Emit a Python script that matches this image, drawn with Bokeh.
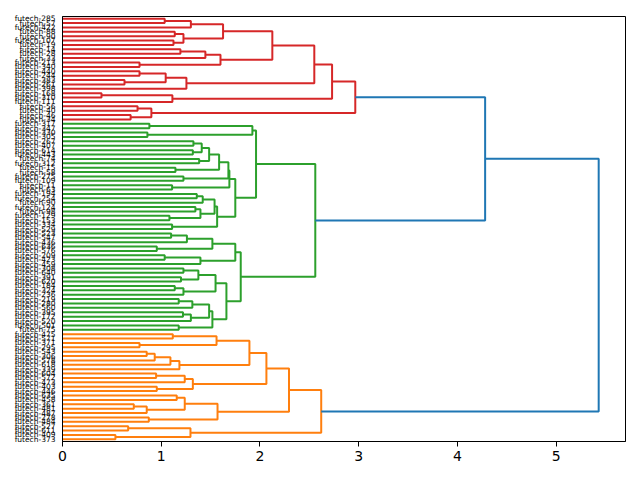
from bokeh.plotting import figure
from bokeh.models import Range1d, FixedTicker
from bokeh.embed import file_html
from bokeh.resources import INLINE

# leaf labels, top to bottom
leaf_labels = [
    "futech-285", "futech-57", "futech-422", "futech-88", "futech-90", "futech-107",
    "futech-19", "futech-14", "futech-28", "futech-33", "futech-213", "futech-340",
    "futech-440", "futech-244", "futech-383", "futech-261", "futech-398", "futech-168",
    "futech-310", "futech-111", "futech-56", "futech-40", "futech-46", "futech-34",
    "futech-317", "futech-347", "futech-330", "futech-305", "futech-267", "futech-407",
    "futech-614", "futech-443", "futech-74", "futech-312", "futech-15", "futech-58",
    "futech-275", "futech-109", "futech-11", "futech-63", "futech-194", "futech-254",
    "futech-90", "futech-124", "futech-98", "futech-129", "futech-153", "futech-334",
    "futech-529", "futech-523", "futech-547", "futech-436", "futech-636", "futech-576",
    "futech-209", "futech-423", "futech-459", "futech-308", "futech-640", "futech-391",
    "futech-620", "futech-184", "futech-324", "futech-236", "futech-219", "futech-280",
    "futech-560", "futech-395", "futech-172", "futech-520", "futech-501", "futech-75",
    "futech-475", "futech-571", "futech-371", "futech-295", "futech-543", "futech-306",
    "futech-578", "futech-618", "futech-339", "futech-604", "futech-572", "futech-473",
    "futech-403", "futech-446", "futech-635", "futech-458", "futech-361", "futech-481",
    "futech-487", "futech-278", "futech-484", "futech-527", "futech-611", "futech-409",
    "futech-373",
]

# linkage: ids < N are leaves, id N+k is the k-th merge
link_a = [0, 97, 3, 5, 99, 98, 7, 103, 10, 104, 102, 12, 14, 108, 110, 107, 17, 113, 112, 20, 22, 116, 115,
          24, 26, 120, 28, 30, 123, 32, 125, 34, 127, 36, 129, 38, 131, 40, 134, 43, 45, 136, 135, 47, 139, 133, 122,
          49, 144, 52, 145, 54, 148, 147, 57, 59, 151, 61, 154, 153, 64, 157, 67, 159, 158, 70, 161, 156, 150, 143,
          72, 74, 167, 76, 170, 171, 172, 169, 81, 175, 84, 176, 174, 86, 88, 181, 180, 91, 183, 179, 93, 95, 187, 186,
          119, 191]
link_b = [1, 2, 4, 6, 100, 101, 8, 9, 11, 105, 106, 13, 15, 109, 16, 111, 18, 19, 114, 21, 23, 117, 118,
          25, 27, 121, 29, 31, 124, 33, 126, 35, 128, 37, 130, 39, 132, 41, 42, 44, 46, 137, 138, 48, 140, 141, 142,
          50, 51, 53, 146, 55, 56, 149, 58, 60, 152, 62, 63, 155, 65, 66, 68, 69, 160, 71, 162, 163, 164, 165,
          73, 75, 168, 77, 78, 79, 80, 173, 82, 83, 85, 177, 178, 87, 89, 90, 182, 92, 184, 185, 94, 96, 188, 189,
          166, 190]
link_h = [1.035, 1.30, 1.137, 1.124, 1.225, 1.626, 1.194, 1.447, 0.78, 1.60, 2.125, 0.78, 0.628, 1.045, 1.255,
          2.55, 0.395, 1.113, 2.73, 0.76, 0.69, 0.90, 2.965,
          0.88, 0.86, 1.923, 1.326, 1.32, 1.41, 1.384, 1.485, 1.144, 1.586, 1.225, 1.68, 1.11, 1.69, 1.36, 1.42,
          1.346, 1.083, 1.397, 1.54, 1.11, 1.566, 1.75, 1.96,
          1.10, 1.26, 0.955, 1.518, 1.035, 1.397, 1.75, 1.225, 1.20, 1.376, 1.137, 1.225, 1.55, 1.177, 1.315,
          1.22, 1.30, 1.485, 1.177, 1.518, 1.66, 1.805, 2.56,
          1.117, 0.78, 1.56, 0.853, 0.934, 1.093, 1.184, 1.893, 0.948, 1.238, 0.955, 1.32, 2.065, 1.157, 0.722,
          0.853, 1.238, 0.874, 1.57, 2.294, 0.665, 0.536, 1.296, 2.62,
          4.28, 5.43]

cluster_colors = ["#d62728", "#2ca02c", "#ff7f0e"]
above_color = "#1f77b4"
threshold = 0.7 * max(link_h)

N = len(leaf_labels)
pos = {i: 5 + 10 * i for i in range(N)}
hgt = {i: 0.0 for i in range(N)}
children = {}
for k, (a, b, h) in enumerate(zip(link_a, link_b, link_h)):
    nid = N + k
    pos[nid] = (pos[a] + pos[b]) / 2.0
    hgt[nid] = h
    children[nid] = (a, b)

# colour assignment
root = N + len(link_h) - 1
node_color = {}
cluster_roots = []
stack = [root]
while stack:
    n = stack.pop()
    if n < N:
        continue
    if hgt[n] > threshold:
        node_color[n] = above_color
        stack.extend(children[n])
    else:
        cluster_roots.append(n)
cluster_roots.sort(key=lambda n: pos[n])
for ci, cr in enumerate(cluster_roots):
    st = [cr]
    while st:
        n = st.pop()
        if n < N:
            continue
        node_color[n] = cluster_colors[ci % len(cluster_colors)]
        st.extend(children[n])

xs, ys, cols = [], [], []
for nid, (a, b) in children.items():
    xs.append([hgt[a], hgt[nid], hgt[nid], hgt[b]])
    ys.append([pos[a], pos[a], pos[b], pos[b]])
    cols.append(node_color[nid])

p = figure(width=640, height=480, output_backend="svg", toolbar_location=None,
           x_range=Range1d(0, max(link_h) * 1.05), y_range=Range1d(N * 10, 0),
           min_border_left=62, min_border_right=15, min_border_top=16, min_border_bottom=39)
p.multi_line(xs=xs, ys=ys, line_color=cols, line_width=2)

p.xgrid.visible = False
p.ygrid.visible = False
p.outline_line_color = "black"
p.outline_line_width = 1
p.background_fill_color = "white"
p.border_fill_color = "white"

p.xaxis.ticker = FixedTicker(ticks=[0, 1, 2, 3, 4, 5])
p.xaxis.major_label_text_font = "DejaVu Sans"
p.xaxis.major_label_text_font_size = "14px"
p.xaxis.major_label_text_color = "black"
p.xaxis.major_tick_out = 5
p.xaxis.major_tick_in = 0
p.xaxis.minor_tick_out = 0
p.xaxis.minor_tick_in = 0
p.xaxis.major_label_standoff = 4
p.xaxis.axis_line_color = "black"
p.xaxis.major_tick_line_color = "black"

yt = [5 + 10 * i for i in range(N)]
p.yaxis.ticker = FixedTicker(ticks=yt)
p.yaxis.major_label_overrides = {t: lab for t, lab in zip(yt, leaf_labels)}
p.yaxis.major_label_text_font = "DejaVu Sans"
p.yaxis.major_label_text_font_size = "7.5px"
p.yaxis.major_label_text_color = "black"
p.yaxis.major_tick_out = 0
p.yaxis.major_tick_in = 0
p.yaxis.minor_tick_out = 0
p.yaxis.minor_tick_in = 0
p.yaxis.major_label_standoff = 7
p.yaxis.axis_line_color = "black"

open("out.html", "w").write(file_html(p, INLINE))
